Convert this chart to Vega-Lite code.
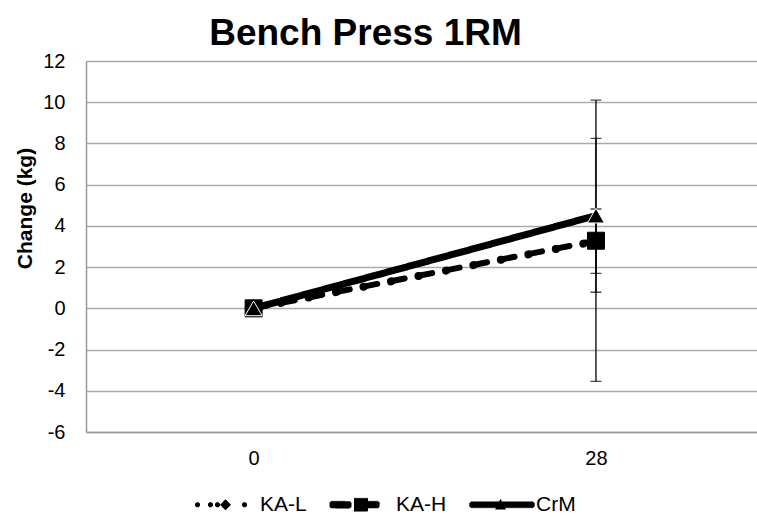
{
  "$schema": "https://vega.github.io/schema/vega-lite/v6.json",
  "width": 671,
  "height": 371,
  "autosize": {"type": "none"},
  "padding": {"left": 86, "top": 61, "right": 0, "bottom": 85},
  "background": "white",
  "config": {"font": "Liberation Sans", "view": {"stroke": null}},
  "title": {
    "text": "Bench Press 1RM",
    "fontSize": 37,
    "font": "Liberation Sans",
    "fontWeight": "bold",
    "color": "black",
    "anchor": "middle",
    "frame": "group",
    "dx": -56,
    "baseline": "alphabetic",
    "offset": -31
  },
  "data": {
    "values": [
      {"group": "KA-L", "day": 0, "mean": 0},
      {"group": "KA-L", "day": 28, "mean": 3.26, "lo": 1.7, "hi": 4.82},
      {"group": "KA-H", "day": 0, "mean": 0},
      {"group": "KA-H", "day": 28, "mean": 3.28, "lo": -3.54, "hi": 10.1},
      {"group": "CrM", "day": 0, "mean": 0},
      {"group": "CrM", "day": 28, "mean": 4.5, "lo": 0.78, "hi": 8.25}
    ]
  },
  "encoding": {
    "x": {
      "field": "day",
      "type": "ordinal",
      "scale": {"type": "point", "padding": 0.48, "align": 0.51},
      "axis": {
        "title": null,
        "labelAngle": 0,
        "labelFontSize": 20,
        "labelColor": "black",
        "labelPadding": 16,
        "ticks": false,
        "domainColor": "#999999",
        "domainWidth": 1.5,
        "grid": false
      }
    }
  },
  "layer": [
    {
      "mark": {"type": "line", "color": "black", "strokeCap": "round", "strokeJoin": "round"},
      "encoding": {
        "y": {
          "field": "mean",
          "type": "quantitative",
          "scale": {"domain": [-6, 12], "nice": false, "zero": false},
          "axis": {
            "values": [-6, -4, -2, 0, 2, 4, 6, 8, 10, 12],
            "labelExpr": "datum.value + ''",
            "title": "Change (kg)",
            "titleFontSize": 21,
            "titleFontWeight": "bold",
            "titleColor": "black",
            "titleAngle": -90,
            "titleBaseline": "middle",
            "titleAlign": "center",
            "titleX": -61,
            "titleY": 147,
            "labelFontSize": 20,
            "labelColor": "black",
            "labelPadding": 21,
            "ticks": false,
            "domainColor": "#999999",
            "domainWidth": 1.5,
            "gridColor": "#aaaaaa",
            "gridWidth": 1.5
          }
        },
        "strokeDash": {
          "field": "group",
          "type": "nominal",
          "scale": {"domain": ["KA-L", "KA-H", "CrM"], "range": [[0.1, 27.9], [14, 14], [1, 0]]},
          "legend": {
            "orient": "none",
            "legendX": 97,
            "legendY": 433,
            "direction": "horizontal",
            "title": null,
            "padding": 0,
            "labelFont": "Liberation Sans",
            "labelFontSize": 21,
            "labelColor": "black",
            "labelOffset": 56,
            "columnPadding": 12,
            "symbolSize": 100,
            "symbolStrokeWidth": 0.5,
            "symbolStrokeColor": "black",
            "symbolFillColor": "black",
            "symbolOpacity": 1,
            "encode": {
              "symbols": {
                "update": {
                  "shape": {"signal": "datum.value === 'KA-L' ? 'M0.3,-0.2 L0.6,-0.5 L1,-0.5 L1.3,-0.2 L1.3,0.2 L1,0.5 L0.6,0.5 L0.3,0.2 Z M2.9,-0.2 L3.2,-0.5 L3.6,-0.5 L3.9,-0.2 L3.9,0.2 L3.6,0.5 L3.2,0.5 L2.9,0.2 Z M4.3,-0.2 L4.6,-0.5 L5,-0.5 L5.3,-0.2 L5.3,0.2 L5,0.5 L4.6,0.5 L4.3,0.2 Z M9.7,-0.2 L10,-0.5 L10.4,-0.5 L10.7,-0.2 L10.7,0.2 L10.4,0.5 L10,0.5 L9.7,0.2 Z M6.4,-1.1 L7.5,0 L6.4,1.1 L5.3,0 Z' : datum.value === 'KA-H' ? 'M0.3,-0.7 L4.1,-0.7 L4.4,-0.4 L4.4,0.4 L4.1,0.7 L0.3,0.7 L0,0.4 L0,-0.4 Z M4.9,-1.3 L7.7,-1.3 L7.7,1.3 L4.9,1.3 Z M7.7,-0.7 L9.7,-0.7 L10,-0.4 L10,0.4 L9.7,0.7 L7.7,0.7 Z' : 'M0.3,-0.6 L12.7,-0.6 L13,-0.3 L13,0.3 L12.7,0.6 L0.3,0.6 L0,0.3 L0,-0.3 Z M6.2,-1.1 L7.2,0.9 L5.2,0.9 Z'"},
                  "size": {"value": 100},
                  "fill": {"value": "black"},
                  "fillOpacity": {"value": 1},
                  "stroke": {"value": "black"},
                  "opacity": {"value": 1},
                  "strokeWidth": {"value": 0.5}
                }
              }
            }
          }
        },
        "strokeWidth": {
          "field": "group",
          "type": "ordinal",
          "scale": {"domain": ["KA-H", "CrM", "KA-L"], "range": [6, 8, 5]},
          "legend": null
        }
      }
    },
    {
      "transform": [{"filter": "datum.day == 28"}],
      "mark": {"type": "rule", "color": "black", "strokeWidth": 1.3},
      "encoding": {
        "y": {"field": "lo", "type": "quantitative"},
        "y2": {"field": "hi"}
      }
    },
    {
      "transform": [{"filter": "datum.day == 28"}],
      "mark": {"type": "tick", "color": "black", "thickness": 1.3, "size": 11},
      "encoding": {"y": {"field": "lo", "type": "quantitative"}}
    },
    {
      "transform": [{"filter": "datum.day == 28"}],
      "mark": {"type": "tick", "color": "black", "thickness": 1.3, "size": 11},
      "encoding": {"y": {"field": "hi", "type": "quantitative"}}
    },
    {
      "mark": {"type": "point", "filled": true, "opacity": 1, "size": 289, "color": "black", "strokeWidth": 1},
      "encoding": {
        "y": {"field": "mean", "type": "quantitative"},
        "order": {"field": "group", "sort": "descending"},
        "stroke": {
          "condition": {"test": "datum.group === 'CrM'", "value": "white"},
          "value": "black"
        },
        "shape": {
          "field": "group",
          "type": "nominal",
          "scale": {"domain": ["CrM", "KA-H", "KA-L"], "range": ["triangle-up", "square", "diamond"]},
          "legend": null
        }
      }
    }
  ]
}
